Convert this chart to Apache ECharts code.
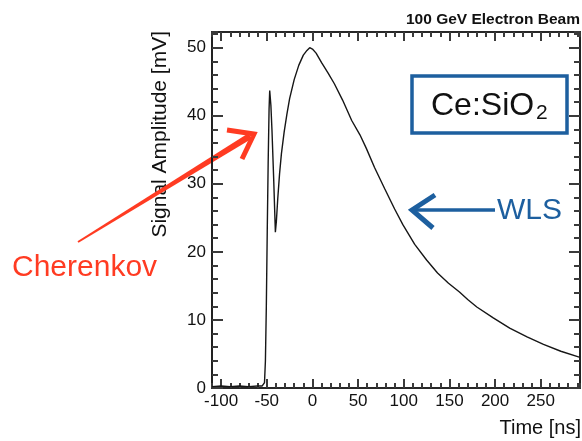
<!DOCTYPE html>
<html><head><meta charset="utf-8">
<script src="https://cdn.jsdelivr.net/npm/echarts@6/dist/echarts.min.js"></script>
<style>html,body{margin:0;padding:0;background:#fff}#c{width:582px;height:441px}</style>
</head><body><div id="c"></div>
<script>
// ---- data ----
const timeNs = [-110,-100,-90,-80,-70,-60,-55,-53,-52.5,-51.5,-50.5,-49.5,-48.5,-47.5,-46.8,-45.5,-44.3,-42.4,-40.6,-39.5,-38,-36,-34,-31,-28,-25,-20,-15,-10,-6,-3,0,4,7,10,17,24,33,43,52,59,68,79,90,99,112,125,137,149,161,170,180,198,216,235,253,272,293];
const amplitude = [0.2,0.3,0.2,0.3,0.2,0.3,0.3,0.4,0.8,4,12,23,33,41,43.7,41.5,37.8,30.5,22.9,24.5,27.8,31.5,34.4,37.6,40.2,42.5,45.3,47.4,48.9,49.6,50.0,49.8,49.2,48.5,47.8,46.3,44.7,42.3,39.3,37.2,35.2,32.4,29.3,26.3,24.0,21.1,18.8,16.9,15.4,14.1,13.0,11.9,10.3,8.8,7.5,6.4,5.4,4.5];
const xTickLabels = [-100,-50,0,50,100,150,200,250];
const yTickLabels = [0,10,20,30,40,50];
const xRange = [-110, 293];
const yRange = [0, 52.3];
const titleText = '100 GeV Electron Beam';
const xTitle = 'Time [ns]';
const yTitle = 'Signal Amplitude [mV]';

const FONT = '"Liberation Sans", Arial, Helvetica, sans-serif';
const G = {left: 212, right: 2, top: 32, bottom: 53};
const TICK = {color: '#3a3a3a', width: 2};

// minor-tick axes (grid 0, carries the data)
function minorAx(pos, range, step, len) {
  return {type: 'value', gridIndex: 0, position: pos, min: range[0], max: range[1], interval: step,
    axisLine: {show: true, onZero: false, lineStyle: {color: '#1a1a1a', width: 1.6}},
    axisTick: {show: true, inside: true, length: len, lineStyle: TICK},
    axisLabel: {show: false}, splitLine: {show: false}};
}
// major-tick axes (grid 1, carries the labels)
function majorAx(pos, range, vals, len, labels, margin) {
  const a = {type: 'value', gridIndex: 1, position: pos, min: range[0], max: range[1],
    axisLine: {show: true, onZero: false, lineStyle: {color: '#1a1a1a', width: 1.6}},
    axisTick: {show: true, inside: true, length: len, customValues: vals, lineStyle: TICK},
    axisLabel: {show: false}, splitLine: {show: false}};
  if (labels) a.axisLabel = {show: true, customValues: vals, fontFamily: FONT, fontSize: 17, color: '#111', margin: margin};
  return a;
}

function txt(x, y, text, font, fill, align, extra) {
  return Object.assign({
    type: 'text', x: x, y: y, silent: true,
    style: {text: text, font: font, fill: fill, align: align, textAlign: align,
            verticalAlign: 'middle', textVerticalAlign: 'middle'}
  }, extra || {});
}
function taperedArrowShaft(x0, y0, x1, y1, w0, w1) {
  const dx = x1 - x0, dy = y1 - y0, L = Math.hypot(dx, dy);
  const nx = -dy / L, ny = dx / L;
  return [[x0 + nx*w0, y0 + ny*w0], [x1 + nx*w1, y1 + ny*w1], [x1 - nx*w1, y1 - ny*w1], [x0 - nx*w0, y0 - ny*w0]];
}
const RED = '#ff3b22', BLUE = '#1d5f9f';

const chart = echarts.init(document.getElementById('c'));
chart.setOption({
  backgroundColor: '#fff',
  animation: false,
  grid: [Object.assign({}, G), Object.assign({}, G)],
  xAxis: [minorAx('bottom', xRange, 10, 5), minorAx('top', xRange, 10, 5),
          majorAx('bottom', xRange, xTickLabels, 9, true, 5), majorAx('top', xRange, xTickLabels, 9, false, 5)],
  yAxis: [minorAx('left', yRange, 2, 6), minorAx('right', yRange, 2, 6),
          majorAx('left', yRange, yTickLabels, 11, true, 6), majorAx('right', yRange, yTickLabels, 11, false, 6)],
  series: [{
    type: 'line', xAxisIndex: 0, yAxisIndex: 0,
    data: timeNs.map((t, i) => [t, amplitude[i]]),
    showSymbol: false, symbol: 'none', smooth: false, clip: true,
    lineStyle: {color: '#161616', width: 1.4}
  }],
  graphic: {elements: [
    txt(580, 20, titleText, 'bold 15.5px ' + FONT, '#111', 'right'),
    txt(581, 428, xTitle, '20px ' + FONT, '#111', 'right'),
    txt(160, 31, yTitle, '21px ' + FONT, '#111', 'right', {rotation: Math.PI / 2}),
    {type: 'rect', silent: true, shape: {x: 412, y: 76, width: 155, height: 57},
     style: {fill: 'none', stroke: BLUE, lineWidth: 3.5}},
    txt(431, 106, 'Ce:SiO', '32px ' + FONT, '#111', 'left'),
    txt(536, 113, '2', '21px ' + FONT, '#111', 'left'),
    txt(497, 210.5, 'WLS', '30px ' + FONT, BLUE, 'left'),
    {type: 'polyline', silent: true, shape: {points: [[495, 210], [415, 210]]},
     style: {stroke: BLUE, lineWidth: 3.5, fill: 'none'}},
    {type: 'polyline', silent: true, shape: {points: [[435, 195], [412, 210], [433, 228]]},
     style: {stroke: BLUE, lineWidth: 5, fill: 'none', lineJoin: 'miter'}},
    txt(12, 268, 'Cherenkov', '30px ' + FONT, RED, 'left'),
    {type: 'polygon', silent: true, shape: {points: taperedArrowShaft(78, 242, 250, 136, 1, 3.2)},
     style: {fill: RED}},
    {type: 'polyline', silent: true, shape: {points: [[227, 130], [254, 134], [242, 159]]},
     style: {stroke: RED, lineWidth: 5, fill: 'none', lineJoin: 'miter'}}
  ]}
});
</script>
</body></html>
